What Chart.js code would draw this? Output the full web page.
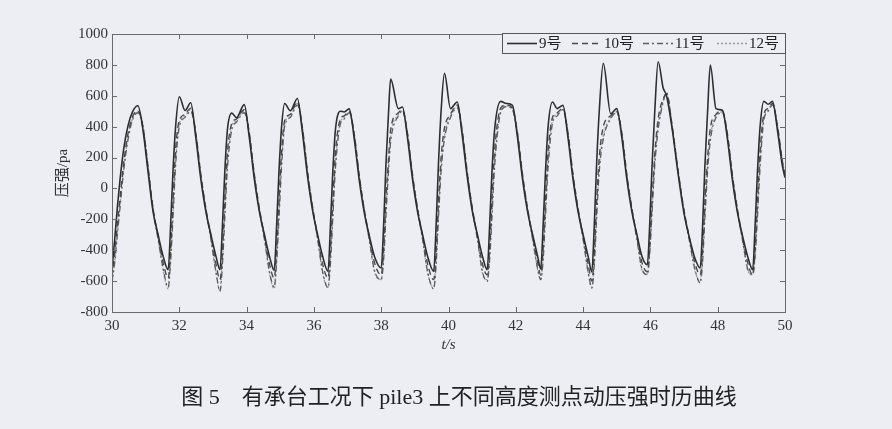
<!DOCTYPE html>
<html>
<head>
<meta charset="utf-8">
<script src="https://cdn.jsdelivr.net/npm/chart.js@4.4.1/dist/chart.umd.min.js"></script>
<style>
  html, body { margin: 0; padding: 0; background: #eceef4; }
  #wrap { position: relative; width: 892px; height: 429px; }
  #caption {
    position: absolute; left: 0; width: 918px; top: 378px; text-align: center;
    font-family: "Liberation Serif", "Noto Sans CJK SC", serif; font-size: 22px; color: #222;
    white-space: pre;
  }
</style>
</head>
<body>
<div id="wrap">
  <canvas id="graph" width="892" height="429"></canvas>
  <div id="caption">图 5　有承台工况下 pile3 上不同高度测点动压强时历曲线</div>
</div>
<script>
// temps (s), communs aux 4 courbes
var temps = [
  30.00, 30.08, 30.16, 30.24, 30.35, 30.48, 30.62, 30.77, 30.92, 31.07, 31.22, 31.37, 31.52,
  31.67, 31.74, 31.81, 31.89, 32.00, 32.17, 32.34, 32.49, 32.64, 32.79, 32.94, 33.09,
  33.21, 33.28, 33.35, 33.43, 33.56, 33.70, 33.93, 34.08, 34.23, 34.38, 34.53, 34.68,
  34.82, 34.89, 34.96, 35.04, 35.13, 35.30, 35.51, 35.66, 35.81, 35.96, 36.11, 36.26,
  36.42, 36.49, 36.56, 36.64, 36.79, 36.90, 37.05, 37.20, 37.35, 37.50, 37.65, 37.80,
  38.00, 38.07, 38.14, 38.22, 38.28, 38.51, 38.63, 38.78, 38.93, 39.08, 39.23, 39.38,
  39.56, 39.63, 39.70, 39.78, 39.88, 40.06, 40.26, 40.41, 40.56, 40.71, 40.86, 41.01,
  41.15, 41.22, 41.29, 41.37, 41.55, 41.72, 41.90, 42.05, 42.20, 42.35, 42.50, 42.65,
  42.74, 42.81, 42.88, 42.96, 43.09, 43.23, 43.40, 43.55, 43.70, 43.85, 44.00, 44.15,
  44.26, 44.33, 44.40, 44.48, 44.60, 44.82, 45.00, 45.15, 45.30, 45.45, 45.60, 45.75,
  45.91, 45.98, 46.05, 46.13, 46.23, 46.38, 46.48, 46.65, 46.82, 46.99, 47.16, 47.32,
  47.48, 47.55, 47.62, 47.70, 47.78, 47.95, 48.14, 48.29, 48.44, 48.59, 48.74, 48.89,
  49.04, 49.11, 49.18, 49.26, 49.37, 49.50, 49.63, 49.78, 49.92, 50.00
];

// pression (pa) du point 9
var p9 = [
  -520, -330, -120, 60, 260, 410, 500, 535, 380, 110, -150, -300, -440,
  -526, -250, 100, 400, 594, 505, 555, 330, 60, -150, -300, -440,
  -526, -250, 100, 380, 488, 458, 543, 330, 60, -150, -300, -440,
  -530, -250, 100, 400, 550, 503, 582, 360, 80, -140, -300, -440,
  -537, -250, 100, 380, 500, 495, 515, 320, 50, -160, -310, -440,
  -515, -250, 150, 500, 708, 517, 527, 330, 60, -150, -300, -440,
  -537, -250, 150, 500, 745, 517, 560, 340, 70, -150, -300, -440,
  -526, -250, 100, 380, 564, 550, 538, 330, 60, -150, -300, -440,
  -521, -250, 100, 400, 560, 517, 538, 330, 60, -150, -300, -440,
  -540, -250, 150, 500, 810, 484, 517, 330, 60, -150, -300, -440,
  -493, -230, 150, 500, 820, 650, 600, 380, 100, -150, -320, -450,
  -515, -250, 150, 500, 799, 517, 506, 320, 50, -160, -310, -440,
  -526, -250, 100, 400, 564, 545, 564, 370, 150, 70
];

// point 10
var p10 = [
  -570, -420, -230, -60, 170, 360, 470, 500, 400, 140, -130, -310, -480,
  -580, -400, -100, 250, 440, 480, 520, 360, 90, -130, -310, -490,
  -590, -420, -100, 230, 420, 450, 510, 360, 90, -130, -310, -490,
  -580, -410, -100, 240, 440, 480, 560, 390, 110, -120, -310, -490,
  -580, -410, -100, 230, 450, 470, 500, 350, 80, -140, -320, -480,
  -560, -400, -80, 200, 380, 490, 510, 360, 90, -130, -310, -490,
  -590, -420, -100, 200, 390, 480, 540, 370, 100, -130, -310, -490,
  -560, -400, -90, 240, 520, 540, 520, 360, 90, -130, -310, -480,
  -560, -400, -90, 240, 460, 490, 520, 360, 90, -130, -310, -490,
  -600, -430, -100, 200, 400, 470, 500, 360, 90, -130, -310, -480,
  -540, -380, -80, 220, 450, 580, 610, 400, 120, -130, -320, -480,
  -560, -410, -90, 200, 390, 480, 500, 350, 80, -140, -320, -480,
  -560, -400, -90, 240, 480, 520, 550, 400, 180, 90
];

// point 11
var p11 = [
  -600, -480, -300, -120, 120, 320, 450, 490, 390, 130, -140, -330, -520,
  -640, -480, -200, 150, 400, 460, 500, 350, 80, -140, -330, -540,
  -667, -500, -200, 130, 380, 430, 490, 350, 80, -140, -330, -540,
  -640, -490, -200, 140, 400, 460, 540, 380, 100, -130, -330, -540,
  -643, -490, -200, 130, 420, 450, 490, 340, 70, -150, -340, -530,
  -591, -470, -180, 120, 300, 470, 500, 350, 80, -140, -330, -540,
  -651, -500, -200, 110, 320, 460, 520, 360, 90, -140, -330, -540,
  -602, -470, -190, 140, 490, 530, 510, 350, 80, -140, -330, -520,
  -591, -470, -190, 140, 420, 470, 510, 350, 80, -140, -330, -540,
  -645, -500, -200, 110, 320, 450, 490, 350, 80, -140, -330, -520,
  -558, -420, -150, 150, 380, 560, 620, 390, 110, -140, -340, -520,
  -612, -480, -190, 110, 310, 460, 490, 340, 70, -150, -340, -520,
  -558, -440, -190, 140, 440, 500, 540, 390, 170, 80
];

// point 12
var p12 = [
  -620, -470, -280, -100, 140, 340, 460, 500, 410, 150, -130, -320, -530,
  -650, -450, -170, 180, 420, 470, 510, 360, 90, -130, -320, -550,
  -660, -470, -170, 160, 400, 440, 500, 360, 90, -130, -320, -550,
  -650, -460, -170, 170, 420, 470, 550, 390, 110, -120, -320, -550,
  -640, -460, -170, 160, 430, 460, 495, 350, 80, -140, -330, -540,
  -590, -440, -150, 150, 330, 480, 505, 360, 90, -130, -320, -550,
  -640, -470, -170, 140, 340, 470, 530, 370, 100, -130, -320, -550,
  -590, -440, -160, 170, 500, 535, 515, 360, 90, -130, -320, -530,
  -590, -440, -160, 170, 440, 480, 515, 360, 90, -130, -320, -550,
  -640, -470, -170, 140, 340, 460, 495, 360, 90, -130, -320, -530,
  -555, -400, -120, 180, 400, 570, 615, 400, 120, -130, -330, -530,
  -600, -450, -160, 140, 330, 470, 495, 350, 80, -140, -330, -530,
  -560, -420, -160, 170, 460, 510, 545, 400, 180, 90
];

var noms = ['9号', '10号', '11号', '12号'];
var xTicks = [30, 32, 34, 36, 38, 40, 42, 44, 46, 48, 50];
var yTicks = [-800, -600, -400, -200, 0, 200, 400, 600, 800, 1000];

function points(vals) {
    var out = [];
    for (var i = 0; i < temps.length; i++) {
        out.push({ x: temps[i], y: vals[i] });
    }
    return out;
}

var serif = '"Liberation Serif", "Noto Sans CJK SC", serif';

// cadre, graduations intérieures et légende
var cadrePlugin = {
    id: 'cadre',
    afterDraw: function(chart) {
        var ctx = chart.ctx;
        var a = chart.chartArea;
        var xs = chart.scales.x, ys = chart.scales.y;
        ctx.save();
        ctx.strokeStyle = '#6a6a6a';
        ctx.lineWidth = 1;
        ctx.strokeRect(a.left + 0.5, a.top + 0.5, a.right - a.left, a.bottom - a.top);
        ctx.beginPath();
        xTicks.forEach(function(v) {
            var px = Math.round(xs.getPixelForValue(v)) + 0.5;
            ctx.moveTo(px, a.bottom); ctx.lineTo(px, a.bottom - 5);
            ctx.moveTo(px, a.top); ctx.lineTo(px, a.top + 5);
        });
        yTicks.forEach(function(v) {
            var py = Math.round(ys.getPixelForValue(v)) + 0.5;
            ctx.moveTo(a.left, py); ctx.lineTo(a.left + 5, py);
            ctx.moveTo(a.right, py); ctx.lineTo(a.right - 5, py);
        });
        ctx.stroke();

        // légende
        var lx = 502, ly = a.top - 1, lw = a.right - 502, lh = 20;
        ctx.fillStyle = '#eceef4';
        ctx.fillRect(lx, ly, lw, lh);
        ctx.strokeStyle = '#555';
        ctx.strokeRect(lx + 0.5, ly + 0.5, lw, lh);
        var starts = [507, 572, 643, 717];
        ctx.font = '15px ' + serif;
        ctx.textBaseline = 'middle';
        chart.data.datasets.forEach(function(ds, i) {
            ctx.beginPath();
            ctx.strokeStyle = ds.borderColor;
            ctx.lineWidth = ds.borderWidth;
            ctx.setLineDash(ds.borderDash || []);
            ctx.moveTo(starts[i], ly + lh / 2 + 0.5);
            ctx.lineTo(starts[i] + 30, ly + lh / 2 + 0.5);
            ctx.stroke();
            ctx.setLineDash([]);
            ctx.fillStyle = '#222';
            ctx.fillText(ds.label, starts[i] + 32, ly + lh / 2 + 1);
        });
        ctx.restore();
    }
};

var ctx = document.getElementById('graph').getContext('2d');
window.myChart = new Chart(ctx, {
    type: 'line',
    data: {
        datasets: [
            { label: noms[0], data: points(p9), borderColor: '#2e2e2e', borderWidth: 1.6 },
            { label: noms[1], data: points(p10), borderColor: '#4a4a4a', borderWidth: 1.4, borderDash: [6, 4] },
            { label: noms[2], data: points(p11), borderColor: '#5e5e5e', borderWidth: 1.3, borderDash: [6, 3, 2, 3] },
            { label: noms[3], data: points(p12), borderColor: '#9a9a9a', borderWidth: 1.3, borderDash: [2, 2] }
        ]
    },
    options: {
        responsive: false,
        animation: false,
        elements: { point: { radius: 0 }, line: { cubicInterpolationMode: 'monotone' } },
        layout: { padding: { left: 50, right: 107, top: 34, bottom: 71 } },
        plugins: { legend: { display: false }, tooltip: { enabled: false } },
        scales: {
            x: {
                type: 'linear', min: 30, max: 50,
                afterFit: function(s) { s.height = 46; },
                afterBuildTicks: function(s) { s.ticks = xTicks.map(function(v) { return { value: v }; }); },
                grid: { display: false, drawTicks: false },
                border: { display: false },
                ticks: { padding: 5, color: '#333', font: { family: serif, size: 15 }, maxRotation: 0,
                         callback: function(v) { return String(v); } },
                title: { display: true, text: 't/s', color: '#333', font: { family: serif, size: 15, style: 'italic' } }
            },
            y: {
                min: -800, max: 1000,
                afterFit: function(s) { s.width = 62; },
                afterBuildTicks: function(s) { s.ticks = yTicks.map(function(v) { return { value: v }; }); },
                grid: { display: false, drawTicks: false },
                border: { display: false },
                ticks: { padding: 4, color: '#333', font: { family: serif, size: 15 },
                         callback: function(v) { return String(v); } },
                title: { display: true, text: '压强/pa', color: '#333', font: { family: serif, size: 15 } }
            }
        }
    },
    plugins: [cadrePlugin]
});
</script>
</body>
</html>
